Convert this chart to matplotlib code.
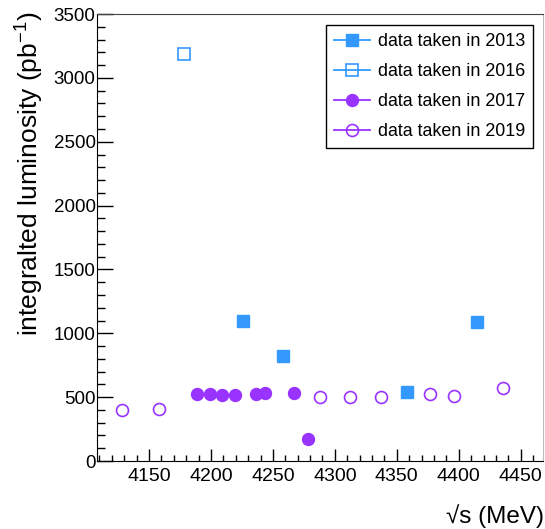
import matplotlib
matplotlib.use("Agg")
from matplotlib import pyplot as plt
from matplotlib.ticker import MultipleLocator

plt.rcParams['font.family'] = ['Liberation Sans', 'DejaVu Sans']
plt.rcParams['mathtext.default'] = 'regular'

blue = '#3399ff'
purple = '#9933ff'

# data taken in 2013
e2013 = [4226, 4258, 4358, 4415]
lum2013 = [1100, 825, 543, 1090]
# data taken in 2016
e2016 = [4178]
lum2016 = [3190]
# data taken in 2017
e2017 = [4189, 4199, 4209, 4219, 4236, 4244, 4267, 4278]
lum2017 = [525, 525, 517, 515, 527, 535, 530, 175]
# data taken in 2019
e2019 = [4128, 4158, 4288, 4312, 4337, 4377, 4396, 4436]
lum2019 = [400, 405, 501, 501, 504, 523, 507, 570]

xticks = [4150, 4200, 4250, 4300, 4350, 4400, 4450]
yticks = [0, 500, 1000, 1500, 2000, 2500, 3000, 3500]

fig = plt.figure(figsize=(5.45, 5.29), dpi=100)
ax = fig.add_axes([0.178, 0.1285, 0.8183, 0.845])

ms = 8.6
ax.plot(e2013, lum2013, ls='none', marker='s', ms=ms, color=blue, mec=blue,
        label='data taken in 2013')
ax.plot(e2016, lum2016, ls='none', marker='s', ms=ms, mfc='none', mec=blue,
        mew=1.2, label='data taken in 2016')
ax.plot(e2017, lum2017, ls='none', marker='o', ms=ms, color=purple, mec=purple,
        label='data taken in 2017')
ax.plot(e2019, lum2019, ls='none', marker='o', ms=ms, mfc='none', mec=purple,
        mew=1.2, label='data taken in 2019')

ax.set_xlim(4108, 4468)
ax.set_ylim(0, 3500)
ax.set_xticks(xticks)
ax.set_yticks(yticks)
ax.xaxis.set_minor_locator(MultipleLocator(10))
ax.yaxis.set_minor_locator(MultipleLocator(100))
ax.tick_params(axis='x', which='major', direction='in', length=8.6, width=1,
               labelsize=14, pad=5)
ax.tick_params(axis='x', which='minor', direction='in', length=4.3, width=1)
ax.tick_params(axis='y', which='major', direction='in', length=11.5, width=1,
               labelsize=13.5, pad=1)
ax.tick_params(axis='y', which='minor', direction='in', length=5.8, width=1)

ax.spines['left'].set_color('black')
ax.spines['bottom'].set_color('black')
ax.spines['top'].set_color('#444444')
ax.spines['right'].set_color('#bbbbbb')

fig.text(30 / 545, 1 - 174 / 529, 'integralted luminosity (pb$^{-1}$)',
         rotation=90, ha='center', va='center', fontsize=19)
fig.text(544 / 545, 1 - 516 / 529, '√s (MeV)', ha='right', va='center',
         fontsize=17.5)

leg = ax.legend(loc='upper right', bbox_to_anchor=(0.978, 0.975),
                borderaxespad=0, fancybox=False, edgecolor='black',
                framealpha=1, fontsize=12.9, handlelength=2.0,
                handletextpad=0.45, labelspacing=0.72, borderpad=0.45)
leg.get_frame().set_linewidth(1)
for h, c in zip(leg.legend_handles, [blue, blue, purple, purple]):
    h.set_linestyle('-')
    h.set_color(c)
    h.set_linewidth(1.3)

fig.savefig('out.png', dpi=100)
